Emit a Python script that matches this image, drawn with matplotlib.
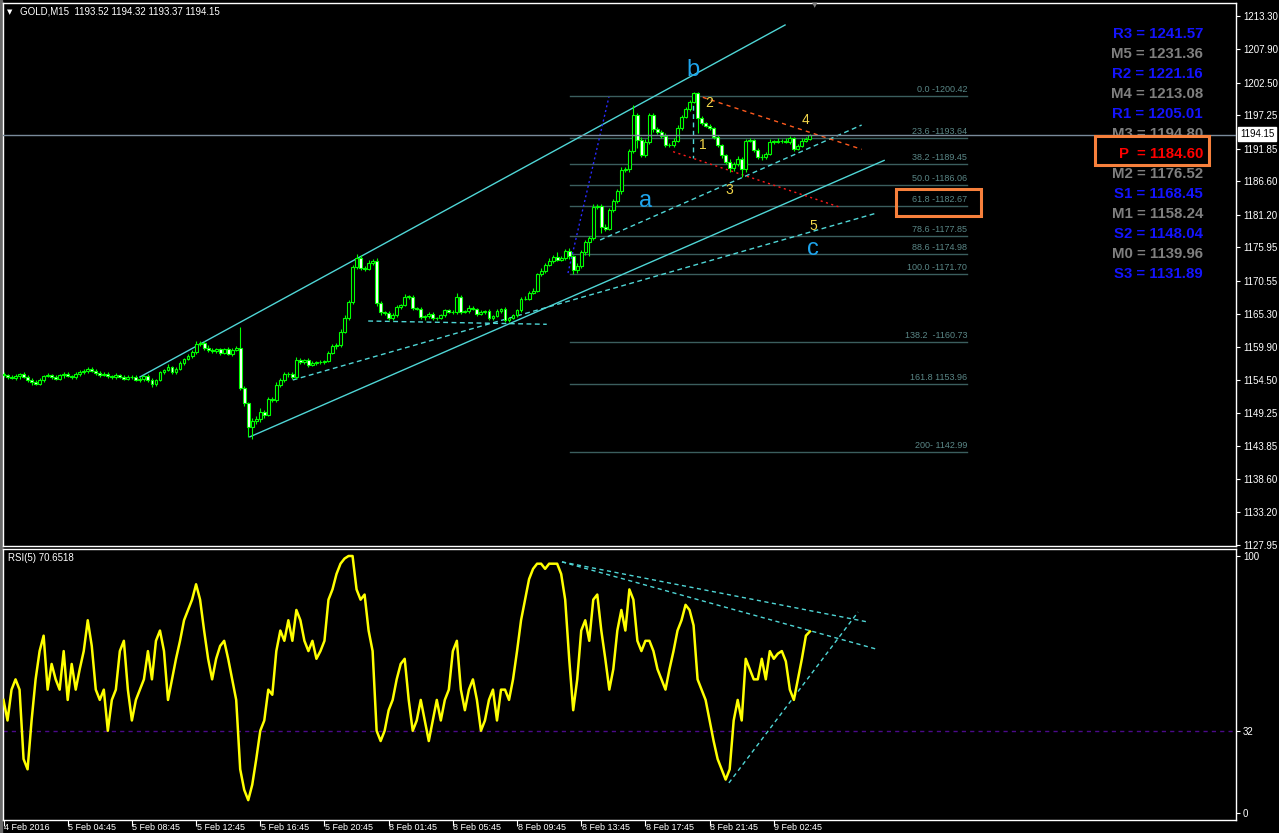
import matplotlib
matplotlib.use('Agg')
import matplotlib.pyplot as plt
from matplotlib.patches import Rectangle
import numpy as np

plt.rcParams['font.family'] = ['Liberation Sans', 'DejaVu Sans']

# ---------------- data ----------------
symbol_header = "GOLD,M15  1193.52 1194.32 1193.37 1194.15"
first_open = 1155.5
closes = [
    1155.3, 1155.0, 1154.9, 1155.2, 1155.5, 1155.1, 1154.6, 1154.2, 1154.0, 1154.6,
    1155.2, 1155.4, 1155.0, 1154.8, 1155.3, 1155.6, 1155.2, 1155.0, 1155.5, 1155.8,
    1156.0, 1156.4, 1156.1, 1155.7, 1155.4, 1155.6, 1155.2, 1155.0, 1155.3, 1155.1,
    1154.8, 1155.1, 1155.0, 1154.6,
    1154.8, 1155.2, 1154.5, 1153.9, 1154.6, 1155.8, 1156.2, 1156.6, 1155.9, 1156.4,
    1157.3, 1158.0, 1158.4, 1159.1,
    1160.3, 1160.6, 1159.8, 1159.4, 1159.2, 1159.5, 1159.0, 1159.6, 1158.8, 1159.4, 1159.8,
    1153.3, 1150.9, 1147.0, 1148.0, 1148.2, 1149.4, 1149.0, 1151.5, 1151.4, 1153.8,
    1154.5, 1155.5, 1155.5, 1155.0, 1157.8, 1157.5, 1157.8, 1157.0, 1157.3, 1157.5,
    1157.4, 1157.6,
    1159.0, 1160.0, 1160.2, 1162.3, 1164.6, 1167.1, 1172.8, 1174.3, 1172.7, 1172.5,
    1173.5, 1173.8, 1167.0, 1165.5, 1165.4, 1164.6, 1165.0, 1166.3, 1166.7, 1168.0, 1168.0,
    1166.2, 1166.0, 1164.7, 1164.9, 1165.2, 1164.5, 1164.6, 1165.0, 1165.8, 1165.6,
    1165.5, 1168.0, 1165.6, 1165.7, 1166.2, 1166.0, 1165.2, 1165.6, 1165.7, 1164.6,
    1164.9, 1165.7, 1166.0, 1164.3, 1164.6, 1165.0, 1165.8,
    1167.6, 1167.7, 1168.6, 1169.0, 1171.6, 1172.2, 1173.1, 1173.8, 1174.4, 1174.0,
    1174.2, 1175.4, 1174.5, 1172.3, 1173.0, 1175.2, 1176.8, 1177.5, 1182.5, 1182.6,
    1179.3, 1179.0, 1182.0, 1183.5, 1185.0, 1188.5, 1188.6, 1191.5, 1197.3, 1193.3,
    1190.9, 1193.0,
    1197.3, 1195.0, 1194.6, 1194.0, 1192.5, 1192.5, 1193.2, 1195.2, 1197.0, 1198.3,
    1199.4, 1200.8, 1196.8, 1196.0, 1195.6, 1195.2, 1193.8, 1192.5, 1190.8, 1189.8, 1188.7,
    1189.4, 1190.3, 1188.6, 1193.2, 1193.3, 1191.7, 1190.6, 1190.5, 1191.0, 1193.0,
    1193.0, 1193.1, 1193.2, 1193.0, 1193.6, 1191.9, 1192.3, 1193.2, 1193.52, 1194.15,
]
upper_wicks = [
    0.3, 0.2, 0.4, 0.3, 0.2, 0.3, 0.2, 0.3, 0.4, 0.3, 0.2, 0.3, 0.2, 0.4, 0.3, 0.2, 0.3,
    0.2, 0.3, 0.4, 0.3, 0.2, 0.3, 0.2, 0.3, 0.2, 0.3, 0.2, 0.4, 0.3, 0.2, 0.3, 0.2, 0.3,
    0.3, 0.2, 0.3, 0.4, 0.2, 0.3, 0.2, 0.5, 0.3, 0.2, 0.3, 0.2, 0.4, 0.3,
    0.5, 0.3, 0.2, 0.4, 0.3, 0.2, 0.3, 0.2, 0.3, 0.4, 0.3,
    3.4, 0.3, 0.2, 0.4, 0.5, 0.6, 0.3, 0.4, 0.3, 0.5, 0.4, 0.3, 0.4, 0.3, 0.5, 0.3,
    0.2, 0.3, 0.4, 0.2, 0.3, 0.2,
    0.3, 0.4, 0.3, 0.5, 0.4, 0.3, 0.4, 0.6, 0.4, 0.3, 0.4, 0.3, 0.4, 0.3, 0.2, 0.3,
    0.4, 0.3, 0.2, 0.4, 0.3,
    0.3, 0.2, 0.3, 0.2, 0.3, 0.4, 0.2, 0.3, 0.2, 0.3, 0.2, 0.6, 0.3, 0.2, 0.4, 0.3,
    0.2, 0.3, 0.2, 0.3, 0.2, 0.3, 0.2, 0.3, 0.2, 0.3, 0.2,
    0.3, 0.4, 0.3, 0.4, 0.3, 0.4, 0.3, 0.4, 0.3, 0.8,
    0.4, 0.3, 0.4, 0.3, 0.4, 0.3, 0.4, 0.3, 0.4, 0.3, 0.4, 0.5, 0.4, 0.3, 0.4, 0.5,
    0.3, 0.4, 1.7, 0.3, 0.4, 0.5,
    0.4, 0.3, 0.4, 0.3, 0.4, 0.3, 0.4, 0.5, 0.4, 0.3, 0.4, 0.3, 0.2, 0.3, 0.2, 0.3,
    0.2, 0.3, 0.2, 0.3, 0.4,
    0.3, 0.4, 0.3, 0.2, 0.3, 0.2, 0.3, 0.4, 0.3, 0.4, 0.3, 0.5, 0.3, 0.4, 0.3, 0.2,
    0.3, 0.4, 0.3, 0.17,
]
lower_wicks = [
    0.2, 0.3, 0.2, 0.3, 0.4, 0.2, 0.3, 0.4, 0.3, 0.2, 0.3, 0.2, 0.3, 0.2, 0.3, 0.4, 0.2,
    0.3, 0.2, 0.3, 0.2, 0.3, 0.2, 0.3, 0.4, 0.2, 0.3, 0.2, 0.3, 0.2, 0.3, 0.2, 0.3, 0.2,
    0.3, 0.4, 0.3, 0.5, 0.3, 0.2, 0.3, 0.2, 0.4, 0.3, 0.2, 0.3, 0.2, 0.3,
    0.3, 0.2, 0.4, 0.3, 0.2, 0.3, 0.4, 0.3, 0.2, 0.3, 0.2,
    0.3, 0.5, 1.6, 2.0, 0.6, 0.4, 0.5, 0.3, 0.4, 0.3, 0.4, 0.3, 0.4, 0.3, 0.2, 0.3,
    0.4, 0.3, 0.2, 0.3, 0.2, 0.3,
    0.2, 0.3, 0.4, 0.3, 0.2, 0.3, 0.2, 0.3, 0.4, 0.3, 0.2, 0.3, 0.5, 0.4, 0.3, 0.4,
    0.3, 0.2, 0.3, 0.2, 0.3,
    0.3, 0.2, 0.3, 0.4, 0.3, 0.2, 0.3, 0.2, 0.3, 0.2, 0.3, 0.2, 0.3, 0.2, 0.3, 0.2,
    0.3, 0.2, 0.3, 0.4, 0.3, 0.2, 0.3, 0.4, 0.3, 0.2, 0.3,
    0.3, 0.2, 0.3, 0.2, 0.3, 0.2, 0.3, 0.2, 0.3, 0.3,
    0.3, 0.2, 0.4, 0.6, 0.4, 0.3, 0.4, 2.3, 0.3, 0.4, 1.0, 0.4, 0.3, 0.4, 0.3, 0.4,
    0.3, 0.4, 0.3, 1.3, 0.4, 0.3,
    0.3, 0.4, 0.3, 0.4, 0.3, 0.4, 0.3, 0.2, 0.3, 0.2, 0.3, 0.2, 2.3, 0.3, 0.2, 0.3,
    0.4, 0.3, 0.4, 0.3, 0.5,
    0.4, 0.3, 1.3, 0.4, 0.3, 0.4, 0.3, 0.4, 0.3, 0.2, 0.3, 0.2, 0.3, 0.2, 0.3, 0.4,
    0.3, 0.2, 0.3, 0.15,
]
rsi_values = [
    44, 36, 48, 52, 48, 21, 17, 36, 52, 63, 69, 48, 58, 52, 48, 63, 44, 58, 48, 56,
    63, 75, 65, 48, 44, 48, 32, 44, 48, 63, 67, 48, 36, 44,
    48, 52, 63, 52, 67, 71, 63, 44, 52, 60, 67, 75, 79, 83, 89, 83, 71, 60, 52, 60,
    65, 67, 60, 52, 44,
    17, 9, 5, 11, 21, 32, 36, 48, 46, 63, 71, 67, 75, 67, 79, 75, 67, 63, 67, 60, 63, 67,
    83, 87, 93, 97, 99, 100, 100, 87, 83, 85, 71, 63, 32, 28, 32, 40, 44, 52, 58, 60, 44,
    32, 36, 44, 36, 28, 36, 44, 36, 44, 48, 63, 67, 48, 40, 48, 52, 44, 32, 36, 44,
    48, 36, 48, 48, 44, 52, 63,
    75, 83, 91, 95, 97, 97, 95, 97, 97, 97,
    93, 83, 60, 40, 52, 71, 75, 67, 83, 85, 71, 60, 48, 56, 71, 79, 71, 87, 83, 67, 63, 67,
    67, 63, 56, 52, 48, 56, 63, 71, 75, 81, 79, 73, 52, 48, 44, 36, 28, 21, 17, 13, 17,
    36, 44, 36, 60, 56, 52, 52, 60, 52, 63, 60, 62, 63, 59, 48, 44, 52, 60, 69, 70.65,
]
rsi_text = "RSI(5) 70.6518"
rsi_level = 32
last_price = 1194.15

time_tick_bars = [0, 16, 32, 48, 64, 80, 96, 112, 128, 144, 160, 176, 192]
time_tick_labels = ["4 Feb 2016", "5 Feb 04:45", "5 Feb 08:45", "5 Feb 12:45",
                    "5 Feb 16:45", "5 Feb 20:45", "8 Feb 01:45", "8 Feb 05:45",
                    "8 Feb 09:45", "8 Feb 13:45", "8 Feb 17:45", "8 Feb 21:45",
                    "9 Feb 02:45"]
price_ticks = [1213.30, 1207.90, 1202.50, 1197.25, 1191.85, 1186.60, 1181.20,
               1175.95, 1170.55, 1165.30, 1159.90, 1154.50, 1149.25, 1143.85,
               1138.60, 1133.20, 1127.95]
rsi_ticks = [0, 32, 100]

fib_prices = [1200.42, 1193.64, 1189.45, 1186.06, 1182.67, 1177.85, 1174.98,
              1171.70, 1160.73, 1153.96, 1142.99]
fib_labels = ["0.0 -1200.42", "23.6 -1193.64", "38.2 -1189.45", "50.0 -1186.06",
              "61.8 -1182.67", "78.6 -1177.85", "88.6 -1174.98", "100.0 -1171.70",
              "138.2  -1160.73", "161.8 1153.96", "200- 1142.99"]
fib_start_bar, fib_end_bar = 141.2, 240.2

pivot_labels = ["R3 = 1241.57", "M5 = 1231.36", "R2 = 1221.16", "M4 = 1213.08",
                "R1 = 1205.01", "M3 = 1194.80", "P  = 1184.60", "M2 = 1176.52",
                "S1 = 1168.45", "M1 = 1158.24", "S2 = 1148.04", "M0 = 1139.96",
                "S3 = 1131.89"]
pivot_kinds = ["R", "M", "R", "M", "R", "M", "P", "M", "S", "M", "S", "M", "S"]

# trendline anchors: (bar, price) pairs
channel_solid = [((34.0, 1155.06), (194.8, 1211.85)),
                 ((61.4, 1145.40), (219.5, 1190.00))]
cyan_dashed = [((72.1, 1154.57), (217.7, 1181.52)),
               ((148.7, 1177.16), (213.9, 1195.71)),
               ((90.9, 1164.09), (135.4, 1163.56)),
               ((171.8, 1200.30), (171.8, 1190.34))]
blue_dotted = [((140.7, 1171.83), (150.9, 1200.23))]
orange_dashed = [((174.3, 1200.18), (213.9, 1191.79))]
red_dashed = [((166.9, 1191.41), (208.1, 1182.53))]
rsi_lines = [((139.2, 97.7), (215.5, 74.3)),
             ((139.2, 97.7), (217.5, 63.8)),
             ((180.8, 11.7), (213.0, 78.2))]

wave_letters = [("a", 160.0, 1183.5), ("b", 171.9, 1204.6), ("c", 201.8, 1175.7)]
wave_numbers = [("1", 174.2, 1192.5), ("2", 175.9, 1199.2), ("3", 181.0, 1185.2),
                ("4", 199.8, 1196.5), ("5", 201.9, 1179.4)]

# ---------------- figure ----------------
W, H = 1279, 833
fig = plt.figure(figsize=(W / 100, H / 100), dpi=100, facecolor='black')


def fx(px):
    return px / W


def fy(py):
    return 1 - py / H


ax = fig.add_axes([fx(3), fy(546), 1233 / W, 543 / H], facecolor='black')
ax2 = fig.add_axes([fx(3), fy(820), 1233 / W, 271 / H], facecolor='black')

px_per_bar = 4.012
xl = (-0.125, -0.125 + 1233 / px_per_bar)
for a in (ax, ax2):
    a.set_xlim(*xl)
    for s in a.spines.values():
        s.set_color('white')
        s.set_linewidth(1.0)

ax.set_ylim(1213.30 - 530 / 6.198, 1213.30 + 13 / 6.198)
ax2.set_ylim(-2.72, 102.72)

# candles
n = len(closes)
xs = np.arange(n)
c = np.array(closes)
o = np.concatenate([[first_open], c[:-1]])
hi = np.maximum(o, c) + np.array(upper_wicks)
lo = np.minimum(o, c) - np.array(lower_wicks)
green = '#00ff00'
ax.vlines(xs, lo, hi, color=green, linewidth=0.8, zorder=4)
body_bottom = np.minimum(o, c)
body_h = np.maximum(np.abs(c - o), 0.06)
fills = ['black' if cc >= oo else 'white' for oo, cc in zip(o, c)]
ax.bar(xs, body_h, bottom=body_bottom, width=0.72, color=fills,
       edgecolor=green, linewidth=0.8, zorder=5)

# fibonacci
fib_line_c = '#3b5e5e'
fib_text_c = '#5a8787'
for p, lab in zip(fib_prices, fib_labels):
    ax.plot([fib_start_bar, fib_end_bar], [p, p], color=fib_line_c, lw=1, zorder=2)
    ax.text(fib_end_bar, p + 0.25, lab, ha='right', va='bottom', color=fib_text_c,
            fontsize=6.5, zorder=2)

# price line
ax.axhline(last_price, color='#7a8a9a', lw=1, zorder=6)

# trendlines
cyan = '#4fd6d6'
for (x0, y0), (x1, y1) in channel_solid:
    ax.plot([x0, x1], [y0, y1], color=cyan, lw=1, zorder=3)
for (x0, y0), (x1, y1) in cyan_dashed:
    ax.plot([x0, x1], [y0, y1], color=cyan, lw=1, dashes=(3.5, 2.5), zorder=3)
for (x0, y0), (x1, y1) in blue_dotted:
    ax.plot([x0, x1], [y0, y1], color='#2a2aff', lw=1, dashes=(1.5, 2), zorder=3)
for (x0, y0), (x1, y1) in orange_dashed:
    ax.plot([x0, x1], [y0, y1], color='#ff5a1e', lw=1, dashes=(3, 3), zorder=3)
for (x0, y0), (x1, y1) in red_dashed:
    ax.plot([x0, x1], [y0, y1], color='#ff1a1a', lw=1, dashes=(1.5, 2.5), zorder=3)

for s, bx, by in wave_letters:
    ax.text(bx, by, s, color='#1ea4ec', fontsize=17, ha='center', va='center', zorder=7)
for s, bx, by in wave_numbers:
    ax.text(bx, by, s, color='#f2d64a', fontsize=10, ha='center', va='center', zorder=7)

# pivot labels (screen anchored)
kind_colors = {"R": '#1414ff', "S": '#1414ff', "M": '#7f7f7f', "P": '#ff0000'}
for k, (lab, kind) in enumerate(zip(pivot_labels, pivot_kinds)):
    yc = 33.3 + 20 * k
    ax.text(fx(1203), fy(yc + 5.2), lab, transform=fig.transFigure, ha='right',
            va='baseline', color=kind_colors[kind], fontsize=10.8, fontweight='bold',
            zorder=1.5)

# orange highlight boxes
for (x0, y0, x1, y1) in [(1095, 136, 1209, 165), (896, 189, 981, 216)]:
    fig.add_artist(Rectangle((fx(x0), fy(y1)), (x1 - x0) / W, (y1 - y0) / H,
                             transform=fig.transFigure, fill=False,
                             edgecolor='#f7803c', linewidth=2.2, zorder=10))

# axes ticks main
ax.set_xticks([])
ax.yaxis.tick_right()
ax.set_yticks(price_ticks)
ax.set_yticklabels([f"{p:.2f}" for p in price_ticks])
ax.tick_params(axis='y', colors='white', labelcolor='white', labelsize=7,
               length=3, width=0.8, pad=2)

# current price label
fig.text(fx(1240), fy(134), f"{last_price:.2f}", color='black', fontsize=7,
         ha='left', va='center',
         bbox=dict(facecolor='white', edgecolor='white', pad=1.2), zorder=12)

# header
fig.text(fx(7), fy(12), "\u25bc", color='white', fontsize=5, ha='left', va='center',
         family='DejaVu Sans')
fig.text(fx(20), fy(12), symbol_header, color='white', fontsize=7, ha='left',
         va='center')
fig.text(fx(815), fy(5), "\u25bc", color='#808080', fontsize=5, ha='center',
         va='center', family='DejaVu Sans')

# RSI panel
ax2.plot(xs, rsi_values, color='#ffff00', lw=1.8, zorder=4)
ax2.axhline(rsi_level, color='#4b0a8a', lw=1, dashes=(3, 3), zorder=2)
for (x0, y0), (x1, y1) in rsi_lines:
    ax2.plot([x0, x1], [y0, y1], color=cyan, lw=1, dashes=(3, 2.5), zorder=3)
ax2.text(fx(8), fy(558), rsi_text, transform=fig.transFigure, color='white',
         fontsize=7, ha='left', va='center')
ax2.yaxis.tick_right()
ax2.set_yticks(rsi_ticks)
ax2.set_yticklabels([str(t) for t in rsi_ticks])
ax2.tick_params(axis='y', colors='white', labelcolor='white', labelsize=7,
                length=3, width=0.8, pad=2)
ax2.set_xticks(time_tick_bars)
ax2.set_xticklabels([])
ax2.tick_params(axis='x', colors='white', length=4, width=0.8)
for b, lab in zip(time_tick_bars, time_tick_labels):
    px = 3 + (b + 0.125) * px_per_bar
    fig.text(fx(px + 0.5), fy(830.5), lab, color='white', fontsize=6.5,
             ha='left', va='baseline')

# window left border
fig.add_artist(Rectangle((0, 0), 1.5 / W, 1, transform=fig.transFigure,
                         color='#6a6a6a', zorder=0))

fig.savefig('out.png', dpi=100, facecolor='black')
